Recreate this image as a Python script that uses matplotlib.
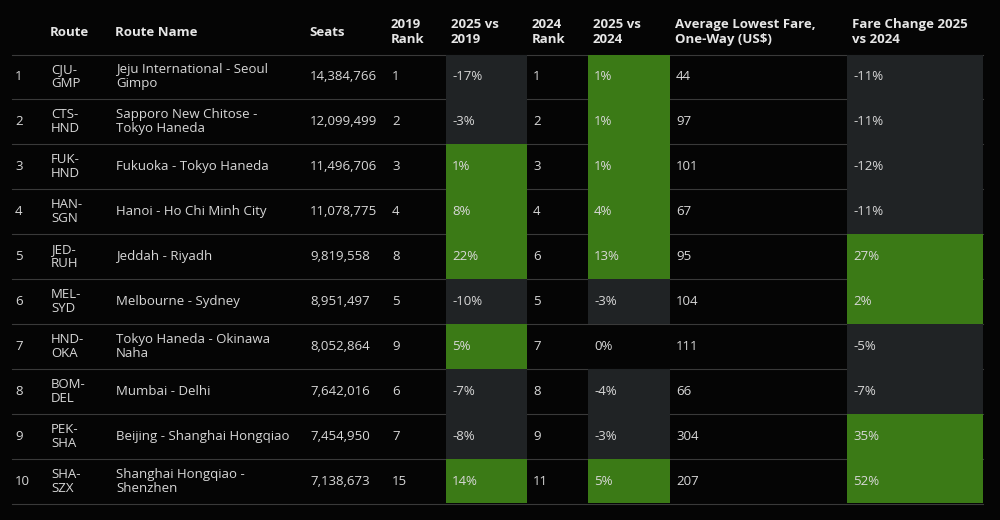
import matplotlib.pyplot as plt
from matplotlib.patches import Rectangle

plt.rcParams['font.family'] = ['Open Sans', 'DejaVu Sans']

routes = ["CJU-\nGMP", "CTS-\nHND", "FUK-\nHND", "HAN-\nSGN", "JED-\nRUH",
          "MEL-\nSYD", "HND-\nOKA", "BOM-\nDEL", "PEK-\nSHA", "SHA-\nSZX"]
names = ["Jeju International - Seoul\nGimpo", "Sapporo New Chitose -\nTokyo Haneda",
         "Fukuoka - Tokyo Haneda", "Hanoi - Ho Chi Minh City", "Jeddah - Riyadh",
         "Melbourne - Sydney", "Tokyo Haneda - Okinawa\nNaha", "Mumbai - Delhi",
         "Beijing - Shanghai Hongqiao", "Shanghai Hongqiao -\nShenzhen"]
seats = [14384766, 12099499, 11496706, 11078775, 9819558, 8951497, 8052864,
         7642016, 7454950, 7138673]
rank2019 = [1, 2, 3, 4, 8, 5, 9, 6, 7, 15]
vs2019 = [-17, -3, 1, 8, 22, -10, 5, -7, -8, 14]
rank2024 = [1, 2, 3, 4, 6, 5, 7, 8, 9, 11]
vs2024 = [1, 1, 1, 4, 13, -3, 0, -4, -3, 5]
fare = [44, 97, 101, 67, 95, 104, 111, 66, 304, 207]
fare_chg = [-11, -11, -12, -11, 27, 2, -5, -7, 35, 52]

headers = ["", "Route", "Route Name", "Seats", "2019\nRank", "2025 vs\n2019",
           "2024\nRank", "2025 vs\n2024", "Average Lowest Fare,\nOne-Way (US$)",
           "Fare Change 2025\nvs 2024"]
col_x = [12, 45, 110, 304, 386, 446, 527, 588, 670, 847, 983]

BG = '#050505'
GREEN = '#3b7a16'
GREY = '#202325'
TXT = '#d8d8d8'

fig = plt.figure(figsize=(10, 5.2), dpi=100, facecolor=BG)
ax = fig.add_axes([0, 0, 1, 1])
ax.set_facecolor(BG)
ax.set_xlim(0, 1000)
ax.set_ylim(520, 0)
ax.axis('off')

top, row_h = 54.5, 44.9

for j, h in enumerate(headers):
    ax.text(col_x[j] + 5 if j else col_x[j], 32, h, color='#e6e6e6', fontsize=9.5,
            fontweight='bold', va='center', ha='left', linespacing=1.15)

def shade(col, y, v):
    if v == 0:
        return
    ax.add_patch(Rectangle((col_x[col], y), col_x[col + 1] - col_x[col], row_h,
                           color=GREEN if v > 0 else GREY, lw=0))

for i in range(len(routes)):
    y = top + i * row_h
    shade(5, y, vs2019[i])
    shade(7, y, vs2024[i])
    shade(9, y, fare_chg[i])
    vals = [str(i + 1), routes[i], names[i], f"{seats[i]:,}", str(rank2019[i]),
            f"{vs2019[i]}%", str(rank2024[i]), f"{vs2024[i]}%", str(fare[i]),
            f"{fare_chg[i]}%"]
    for j, v in enumerate(vals):
        x = col_x[j] + 6 if j else col_x[j] + 3
        ax.text(x, y + row_h / 2, v, color=TXT, fontsize=9.5, va='center',
                ha='left', linespacing=1.1)

for i in range(len(routes) + 1):
    y = top + i * row_h
    ax.plot([12, 983], [y, y], color='#3a3a3a', lw=0.8, zorder=0.5)

fig.savefig('out.png', dpi=100, facecolor=BG)
